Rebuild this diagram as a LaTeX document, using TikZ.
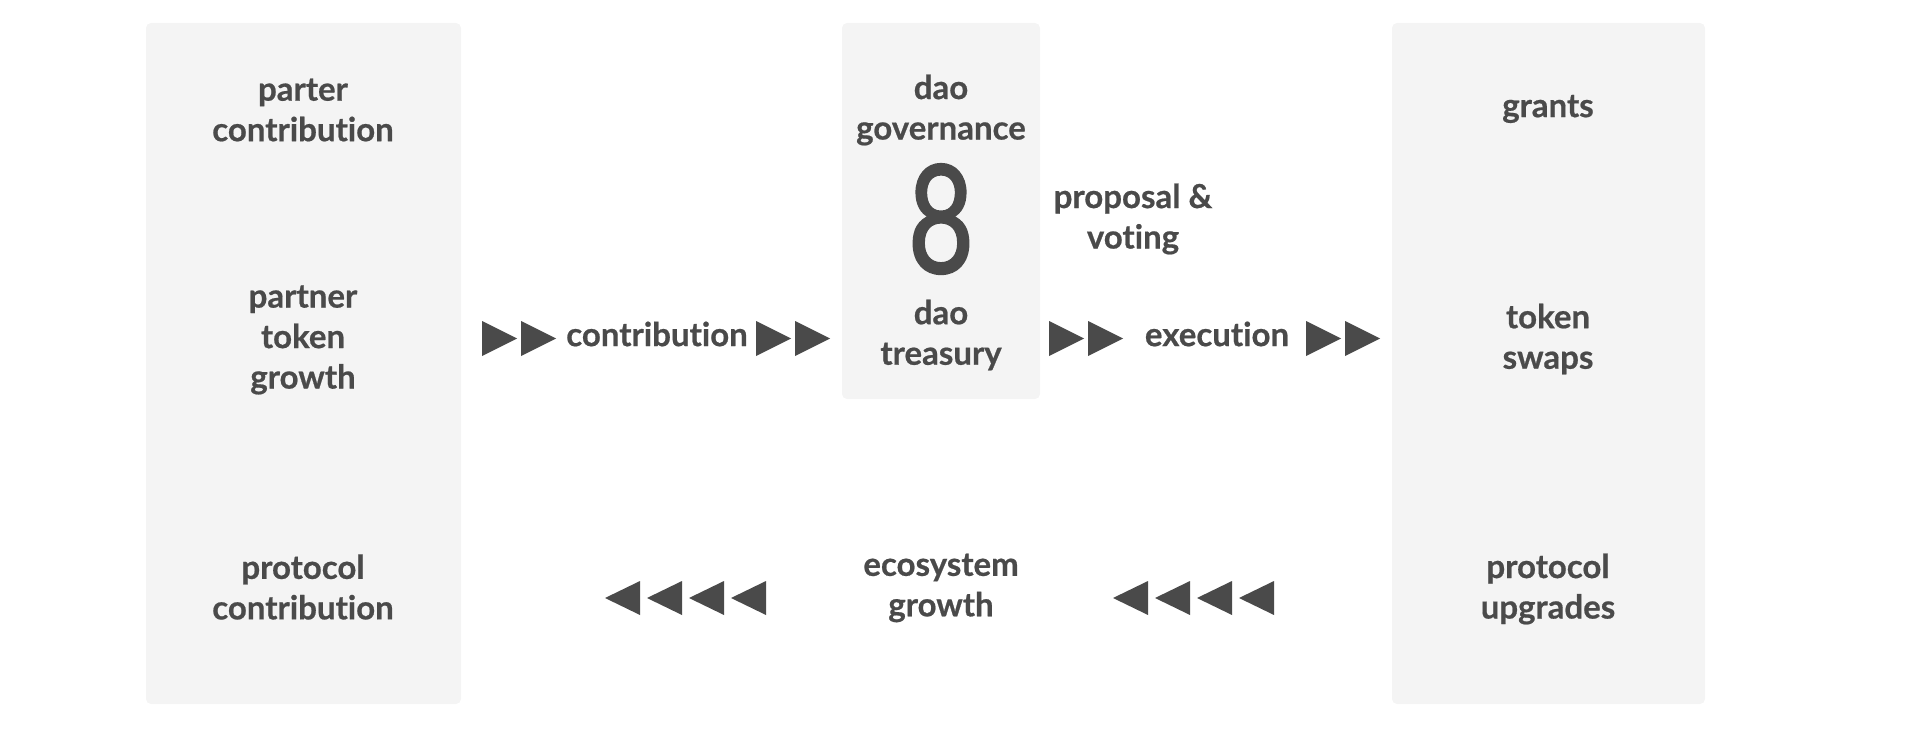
\documentclass[tikz,border=0pt]{standalone}
\usepackage{fontspec}
\setmainfont{Lato}[Ligatures=NoCommon]
\usetikzlibrary{positioning}
\definecolor{ink}{HTML}{4A4A4A}
\definecolor{panelgray}{HTML}{F4F4F4}
\tikzset{
	panel/.style={fill=panelgray, draw=none, rounded corners=5pt},
	lbl/.style={font=\bfseries\fontsize{33}{40.5}\selectfont\addfontfeature{FakeBold=0.6}, text=ink, align=center, inner sep=0pt},
	bigeight/.style={font=\fontsize{150}{160}\selectfont\addfontfeature{FakeBold=1.6}, text=ink, inner sep=0pt, xscale=0.76, transform shape}
}
% forward and backward triangle marks
\newcommand{\fwdtri}[2]{\fill[ink] (#1,#2) -- ++(35,17.5) -- ++(-35,17.5) -- cycle;}
\newcommand{\backtri}[2]{\fill[ink] (#1,#2) ++(0,17) -- ++(35,-17) -- ++(0,34) -- cycle;}

\begin{document}
\begin{tikzpicture}[x=1pt, y=-1pt]
		\useasboundingbox (0,0) rectangle (1922,738);

		% Panels
		\fill[panel] (146,23) rectangle (461,704);
		\fill[panel] (842,23) rectangle (1040,399);
		\fill[panel] (1392,23) rectangle (1705,704);

		% Partner side
		\node[lbl] (partercontrib) at (303,110) {parter\\contribution};
		\node[lbl] (partnergrowth) at (303,340) {partner\\token\\growth};
		\node[lbl] (protocolcontrib) at (303,587) {protocol\\contribution};

		% DAO
		\node[lbl] (governance) at (941,110) {dao\\governance};
		\node[bigeight] (eight) at (941,219) {8};
		\node[lbl] (treasury) at (941,335) {dao\\treasury};
		\node[lbl] (proposal) at (1133,219) {proposal \&\\voting};

		% Outcomes
		\node[lbl] (grants) at (1548,109) {grants};
		\node[lbl] (swaps) at (1548,339) {token\\swaps};
		\node[lbl] (upgrades) at (1548,589) {protocol\\upgrades};

		% Flow labels
		\node[lbl] (contribution) at (657,334) {contribution};
		\node[lbl] (execution) at (1217,334) {execution};
		\node[lbl] (ecosystem) at (941,588) {ecosystem\\growth};

		% Triangle marks
		\foreach \x in {482,521,756,795,1049,1088,1306,1345}
			{\fwdtri{\x}{321}}
		\foreach \x in {605,647,689,731,1113,1155,1197,1239}
			{\backtri{\x}{581}}
	\end{tikzpicture}
\end{document}
